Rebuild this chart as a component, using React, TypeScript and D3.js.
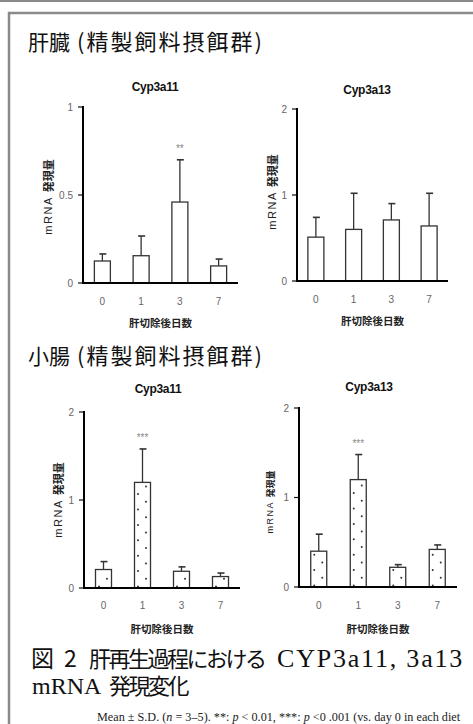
import React from "react";
import * as d3 from "d3";

const days = ["0", "1", "3", "7"];

const liver3a11Mean = [0.125, 0.155, 0.46, 0.097];
const liver3a11Err = [0.165, 0.267, 0.70, 0.136];
const liver3a13Mean = [0.51, 0.60, 0.71, 0.64];
const liver3a13Err = [0.74, 1.02, 0.90, 1.02];
const int3a11Mean = [0.21, 1.20, 0.19, 0.13];
const int3a11Err = [0.30, 1.58, 0.24, 0.17];
const int3a13Mean = [0.40, 1.20, 0.22, 0.42];
const int3a13Err = [0.59, 1.48, 0.25, 0.47];

const liver3a11Sig = ["", "", "**", ""];
const liver3a13Sig = ["", "", "", ""];
const int3a11Sig = ["", "***", "", ""];
const int3a13Sig = ["", "***", "", ""];

const ticksA = [0, 0.5, 1];
const ticksB = [0, 1, 2];

const JP = "'Noto Sans CJK JP', 'Noto Sans', sans-serif";
const SANS = "'Liberation Sans', Arial, sans-serif";
const SERIF = "'Liberation Serif', 'Times New Roman', serif";

type PanelProps = {
  title: string;
  mean: number[];
  err: number[];
  sig: string[];
  ticks: number[];
  max: number;
  x0: number;
  x1: number;
  y0: number;
  yTop: number;
  titleX: number;
  titleY: number;
  ylabX: number;
  ylabY: number;
  ylabSize: number;
  tickY: number;
  xTitleY: number;
  dotted: boolean;
  id: string;
};

function Panel(p: PanelProps) {
  const x = d3.scaleBand<string>().domain(days).range([p.x0, p.x1]);
  const y = d3.scaleLinear().domain([0, p.max]).range([p.y0, p.yTop]);
  const bw = 16;
  const fmt = (v: number) => (v === 0 ? "0" : d3.format("~g")(v));
  return (
    <g>
      <text x={p.titleX} y={p.titleY} textAnchor="middle" fontFamily={SANS} fontSize={12} fontWeight="bold" fill="#111" letterSpacing={-0.3}>
        {p.title}
      </text>
      {days.map((d, i) => {
        const cx = (x(d) as number) + x.bandwidth() / 2;
        const top = y(p.mean[i]);
        const eTop = y(p.err[i]);
        const left = cx - bw / 2;
        const h = p.y0 - top;
        const dots: { dx: number; dy: number }[] = [];
        if (p.dotted) {
          const step = 15.4;
          for (let k = 0; k * step < h + step; k++) {
            const yL = p.y0 - 1.5 - k * step;
            const yR = p.y0 - 1.5 - step / 2 - k * step;
            if (yL > top + 2) dots.push({ dx: left + 3.5, dy: yL });
            if (yR > top + 2) dots.push({ dx: left + 11.5, dy: yR });
          }
        }
        return (
          <g key={d}>
            <line x1={cx} x2={cx} y1={top} y2={eTop} stroke="#333" strokeWidth={1.3} />
            <line x1={cx - 3} x2={cx + 4} y1={eTop} y2={eTop} stroke="#333" strokeWidth={1.6} />
            <rect x={left} y={top} width={bw} height={h} fill="#fff" stroke="#333" strokeWidth={1.3} />
            {dots.map((o, k) => (
              <circle key={k} cx={o.dx} cy={o.dy} r={1} fill="#333" />
            ))}
            {p.sig[i] && (
              <text x={cx} y={eTop - 8} textAnchor="middle" fontFamily={SANS} fontSize={10} fill="#888">
                {p.sig[i]}
              </text>
            )}
          </g>
        );
      })}
      {p.ticks.map((t) => (
        <g key={t}>
          <line x1={p.x0 - 5} x2={p.x0} y1={y(t)} y2={y(t)} stroke="#111" strokeWidth={1.2} />
          <text x={p.x0 - 10} y={y(t) + 3.5} textAnchor="end" fontFamily={SANS} fontSize={10} fill="#666">
            {fmt(t)}
          </text>
        </g>
      ))}
      <line x1={p.x0} x2={p.x0} y1={p.yTop - 1} y2={p.y0 + 1} stroke="#000" strokeWidth={2} />
      <line x1={p.x0} x2={p.x1} y1={p.y0} y2={p.y0} stroke="#000" strokeWidth={2} />
      {days.map((d) => (
        <text key={d} x={(x(d) as number) + x.bandwidth() / 2} y={p.tickY} textAnchor="middle" fontFamily={SANS} fontSize={10} fill="#666">
          {d}
        </text>
      ))}
      <text x={(p.x0 + p.x1) / 2} y={p.xTitleY} textAnchor="middle" fontFamily={JP} fontSize={10.5} fontWeight="bold" fill="#222">
        肝切除後日数
      </text>
      <text transform={`translate(${p.ylabX},${p.ylabY}) rotate(-90)`} textAnchor="middle" fontFamily={JP} fontSize={p.ylabSize} fill="#222" dominantBaseline="central">
        <tspan fontFamily={SANS} letterSpacing={1.5}>mRNA </tspan>
        <tspan fontWeight="bold">発現量</tspan>
      </text>
    </g>
  );
}

export default function App() {
  return (
    <svg width={473} height={724} style={{ position: "absolute", left: 0, top: 0, background: "#fff" }}>
      <rect x={0} y={0} width={473} height={724} fill="#fff" />
      <line x1={0} x2={473} y1={1} y2={1} stroke="#8a8a8a" strokeWidth={2} />
      <path d="M9,724 V13 H473" fill="none" stroke="#8a8a8a" strokeWidth={2.5} />
      <text x={28} y={50} fontFamily={JP} fontSize={21} fill="#111">肝臓</text>
      <text x={77} y={50} fontFamily={JP} fontSize={22} fill="#111" letterSpacing={2}>(精製飼料摂餌群)</text>
      <text x={28} y={364} fontFamily={JP} fontSize={21} fill="#111">小腸</text>
      <text x={77} y={364} fontFamily={JP} fontSize={22} fill="#111" letterSpacing={2}>(精製飼料摂餌群)</text>
      <Panel id="a" title="Cyp3a11" mean={liver3a11Mean} err={liver3a11Err} sig={liver3a11Sig} ticks={ticksA} max={1}
        x0={83} x1={238} y0={283} yTop={107} titleX={155} titleY={91} ylabX={48} ylabY={197} ylabSize={11}
        tickY={305} xTitleY={327} dotted={false} />
      <Panel id="b" title="Cyp3a13" mean={liver3a13Mean} err={liver3a13Err} sig={liver3a13Sig} ticks={ticksB} max={2}
        x0={297} x1={448} y0={281} yTop={109} titleX={367} titleY={94} ylabX={272} ylabY={192} ylabSize={11}
        tickY={303} xTitleY={325} dotted={false} />
      <Panel id="c" title="Cyp3a11" mean={int3a11Mean} err={int3a11Err} sig={int3a11Sig} ticks={ticksB} max={2}
        x0={84} x1={240} y0={588} yTop={412} titleX={158} titleY={393} ylabX={58} ylabY={500} ylabSize={11}
        tickY={609} xTitleY={633} dotted={true} />
      <Panel id="d" title="Cyp3a13" mean={int3a13Mean} err={int3a13Err} sig={int3a13Sig} ticks={ticksB} max={2}
        x0={299} x1={457} y0={587} yTop={408} titleX={369} titleY={391} ylabX={270} ylabY={502} ylabSize={9}
        tickY={609} xTitleY={633} dotted={true} />
      <text x={31} y={667} fontFamily={JP} fontSize={23} fill="#111">図</text>
      <text x={64} y={667} fontFamily={JP} fontSize={23} fill="#111">2</text>
      <text x={89} y={667} fontFamily={JP} fontSize={22} fill="#111" letterSpacing={-2.5}>肝再生過程における</text>
      <text x={277} y={667} fontFamily={SERIF} fontSize={26} fill="#111" letterSpacing={1.8}>CYP3a11, 3a13</text>
      <text x={32} y={694} fontFamily={SERIF} fontSize={24} fill="#111">mRNA</text>
      <text x={109} y={694} fontFamily={JP} fontSize={22} fill="#111" letterSpacing={-2.5}>発現変化</text>
      <text x={97} y={721} fontFamily={SERIF} fontSize={12.2} fill="#222">
        Mean ± S.D. (<tspan fontStyle="italic">n</tspan> = 3–5). **: <tspan fontStyle="italic">p</tspan> {"<"} 0.01, ***: <tspan fontStyle="italic">p</tspan> {"<"}0 .001 (vs. day 0 in each diet
      </text>
    </svg>
  );
}
